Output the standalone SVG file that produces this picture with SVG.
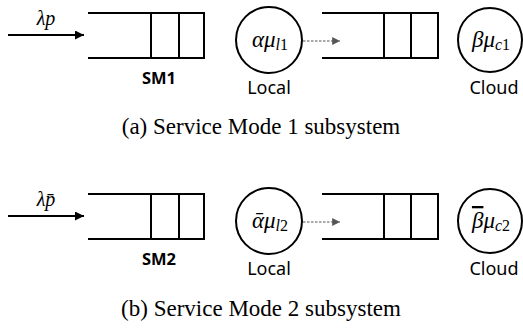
<svg xmlns="http://www.w3.org/2000/svg" width="523" height="329" viewBox="0 0 523 329">
<style>
.q{fill:none;stroke:#000;stroke-width:2}
.c{fill:#fff;stroke:#000;stroke-width:2}
.m{font-family:"Liberation Serif",serif;font-style:italic;fill:#000}
.sub{font-size:16px}
.ov{text-decoration:overline}
.lab{font-family:"Noto Sans",sans-serif;font-size:18px;fill:#000;text-anchor:middle}
.sm{font-family:"Noto Sans",sans-serif;font-size:16.5px;font-weight:bold;fill:#000;text-anchor:middle}
.cap{font-family:"Liberation Serif",serif;font-size:23px;fill:#000;text-anchor:middle}
.a{stroke:#000;stroke-width:2;fill:none}
.d{stroke:#555;stroke-width:1.2;stroke-dasharray:2.5 1.5;fill:none}
</style>
<defs>
<marker id="ah" viewBox="0 0 10 10" refX="10" refY="5" markerWidth="4.5" markerHeight="4.5" orient="auto" markerUnits="strokeWidth"><path d="M0,0L10,5L0,10z" fill="#000"/></marker>
<marker id="ahg" viewBox="0 0 10 10" refX="10" refY="5" markerWidth="6.5" markerHeight="6.5" orient="auto" markerUnits="strokeWidth"><path d="M0,0L10,5L0,10z" fill="#555"/></marker>
</defs>
<g id="connectors">
<line class="a" x1="8" y1="35" x2="84" y2="35" marker-end="url(#ah)"/>
<line class="d" x1="303" y1="41" x2="340" y2="41" marker-end="url(#ahg)"/>
<line class="a" x1="8" y1="216" x2="84" y2="216" marker-end="url(#ah)"/>
<line class="d" x1="303" y1="222" x2="340" y2="222" marker-end="url(#ahg)"/>
</g>
<g id="panel-a">
<text class="m" x="46" y="25" font-size="20" text-anchor="middle">λp</text>
<g id="queue-sm1">
<path class="q" d="M88,13H204V58H88M151,13V58M179,13V58"/>
<text class="sm" x="159" y="84">SM1</text>
</g>
<g id="local1">
<circle class="c" cx="269" cy="40" r="33"/>
<text class="m" x="270" y="47" font-size="23" text-anchor="middle">αμ<tspan class="sub" dy="3">l</tspan><tspan font-style="normal" class="sub">1</tspan></text>
<text class="lab" x="269" y="94">Local</text>
</g>
<g id="queue-cloud1">
<path class="q" d="M322,13H438V58H322M384,13V58M411,13V58"/>
</g>
<g id="cloud1">
<circle class="c" cx="490" cy="40" r="32"/>
<text class="m" x="491" y="47" font-size="23" text-anchor="middle">βμ<tspan class="sub" dy="3">c</tspan><tspan font-style="normal" class="sub">1</tspan></text>
<text class="lab" x="494" y="94">Cloud</text>
</g>
<text class="cap" x="261" y="134">(a) Service Mode 1 subsystem</text>
</g>
<g id="panel-b">
<text class="m" x="46" y="206" font-size="20" text-anchor="middle">λp̄</text>
<g id="queue-sm2">
<path class="q" d="M88,194H204V239H88M151,194V239M179,194V239"/>
<text class="sm" x="159" y="265">SM2</text>
</g>
<g id="local2">
<circle class="c" cx="269" cy="221" r="33"/>
<text class="m" x="270" y="228" font-size="23" text-anchor="middle">ᾱμ<tspan class="sub" dy="3">l</tspan><tspan font-style="normal" class="sub">2</tspan></text>
<text class="lab" x="269" y="275">Local</text>
</g>
<g id="queue-cloud2">
<path class="q" d="M322,194H438V239H322M384,194V239M411,194V239"/>
</g>
<g id="cloud2">
<circle class="c" cx="490" cy="221" r="32"/>
<text class="m" x="491" y="228" font-size="23" text-anchor="middle"><tspan class="ov">β</tspan>μ<tspan class="sub" dy="3">c</tspan><tspan font-style="normal" class="sub">2</tspan></text>
<text class="lab" x="494" y="275">Cloud</text>
</g>
<text class="cap" x="261" y="316">(b) Service Mode 2 subsystem</text>
</g>
</svg>
